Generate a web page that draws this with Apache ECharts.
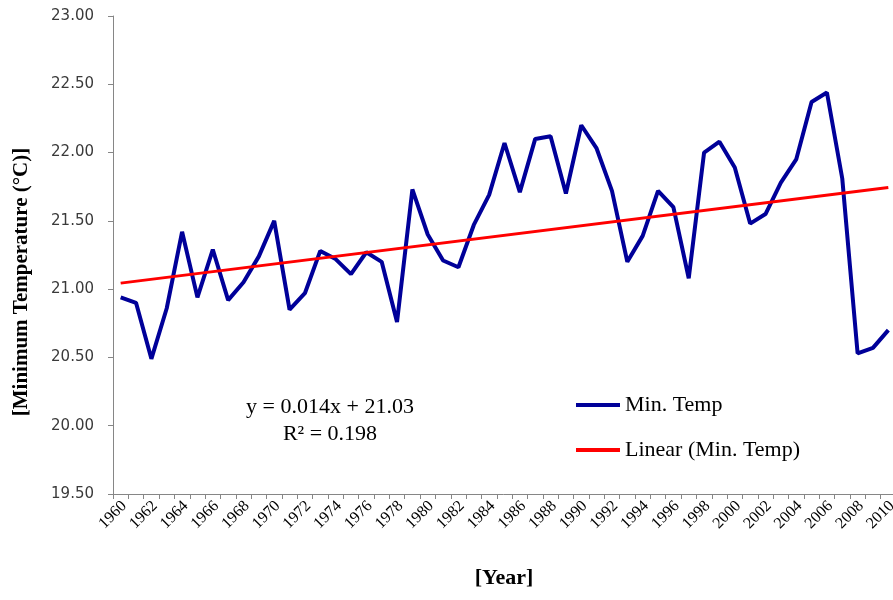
<!DOCTYPE html>
<html>
<head>
<meta charset="utf-8">
<title>Minimum Temperature 1960–2010</title>
<script src="https://cdn.jsdelivr.net/npm/echarts@6/dist/echarts.min.js"></script>
<style>
  html, body { margin: 0; padding: 0; background: #ffffff; }
  #chart { width: 893px; height: 600px; }
</style>
</head>
<body>
<div id="chart"></div>
<script>
// Years on the category axis
const years = [
  '1960','1961','1962','1963','1964','1965','1966','1967','1968','1969',
  '1970','1971','1972','1973','1974','1975','1976','1977','1978','1979',
  '1980','1981','1982','1983','1984','1985','1986','1987','1988','1989',
  '1990','1991','1992','1993','1994','1995','1996','1997','1998','1999',
  '2000','2001','2002','2003','2004','2005','2006','2007','2008','2009',
  '2010'
];

// Annual minimum temperature (°C)
const minTemp = [
  20.94, 20.90, 20.49, 20.86, 21.42, 20.94, 21.29, 20.92, 21.05, 21.24,
  21.50, 20.85, 20.97, 21.28, 21.22, 21.11, 21.27, 21.20, 20.76, 21.73,
  21.40, 21.21, 21.16, 21.47, 21.69, 22.07, 21.71, 22.10, 22.12, 21.70,
  22.20, 22.03, 21.72, 21.20, 21.39, 21.72, 21.60, 21.08, 22.00, 22.08,
  21.89, 21.48, 21.55, 21.78, 21.95, 22.37, 22.44, 21.81, 20.53, 20.57,
  20.70
];

// Linear trend coefficients (x = 1 for the first year)
const trendSlope = 0.014;
const trendIntercept = 21.03;
const trendLabel = ['y = 0.014x + 21.03', 'R² = 0.198'];

// Y axis range
const yMin = 19.5;
const yMax = 23.0;
const yStep = 0.5;

// Trend line end points, taken from the fitted equation
const trendPoints = [
  [years[0], trendIntercept + trendSlope * 1],
  [years[years.length - 1], trendIntercept + trendSlope * years.length]
];

const serif = '"Liberation Serif", "Times New Roman", serif';

const chart = echarts.init(document.getElementById('chart'), null, { renderer: 'canvas' });

chart.setOption({
  animation: false,
  backgroundColor: '#ffffff',
  grid: {
    left: 113, top: 16, width: 783, height: 478,
    containLabel: false,
    outerBoundsMode: 'none'
  },
  xAxis: {
    type: 'category',
    data: years,
    boundaryGap: true,
    axisLine: { lineStyle: { color: '#868686', width: 1 } },
    axisTick: { show: true, interval: 0, length: 5, inside: false, lineStyle: { color: '#868686' } },
    axisLabel: {
      interval: 1,
      rotate: 45,
      margin: 6,
      verticalAlign: 'top',
      lineHeight: 10,
      color: '#000000',
      fontFamily: serif,
      fontSize: 16
    },
    splitLine: { show: false }
  },
  yAxis: {
    type: 'value',
    min: yMin,
    max: yMax,
    interval: yStep,
    axisLine: { show: true, lineStyle: { color: '#868686', width: 1 } },
    axisTick: { show: true, length: 5, lineStyle: { color: '#868686' } },
    axisLabel: {
      margin: 19,
      color: '#3a3a3a',
      fontFamily: '"DejaVu Sans", Verdana, sans-serif',
      fontSize: 15,
      formatter: v => v.toFixed(2)
    },
    splitLine: { show: false }
  },
  legend: {
    orient: 'vertical',
    left: 571,
    top: 389,
    itemWidth: 44,
    itemHeight: 4,
    itemGap: 23,
    icon: 'rect',
    textStyle: { fontFamily: serif, fontSize: 22, color: '#000000' },
    data: ['Min. Temp', 'Linear (Min. Temp)']
  },
  series: [
    {
      name: 'Min. Temp',
      type: 'line',
      data: minTemp,
      symbol: 'none',
      lineStyle: { color: '#000099', width: 4 },
      itemStyle: { color: '#000099' },
      z: 2
    },
    {
      name: 'Linear (Min. Temp)',
      type: 'line',
      data: trendPoints,
      symbol: 'none',
      lineStyle: { color: '#ff0000', width: 3 },
      itemStyle: { color: '#ff0000' },
      z: 3
    }
  ],
  graphic: [
    {
      type: 'text',
      x: 22,
      y: 282,
      rotation: Math.PI / 2,
      style: {
        text: '[Minimum Temperature (°C)]',
        font: 'bold 21px ' + serif,
        fill: '#000000',
        align: 'center',
        verticalAlign: 'middle'
      }
    },
    {
      type: 'text',
      x: 504,
      y: 578,
      style: {
        text: '[Year]',
        font: 'bold 22px ' + serif,
        fill: '#000000',
        align: 'center',
        verticalAlign: 'middle'
      }
    },
    {
      type: 'text',
      x: 330,
      y: 407,
      style: {
        text: trendLabel[0],
        font: '22px ' + serif,
        fill: '#000000',
        align: 'center',
        verticalAlign: 'middle'
      }
    },
    {
      type: 'text',
      x: 330,
      y: 434,
      style: {
        text: trendLabel[1],
        font: '22px ' + serif,
        fill: '#000000',
        align: 'center',
        verticalAlign: 'middle'
      }
    }
  ]
});
</script>
</body>
</html>
